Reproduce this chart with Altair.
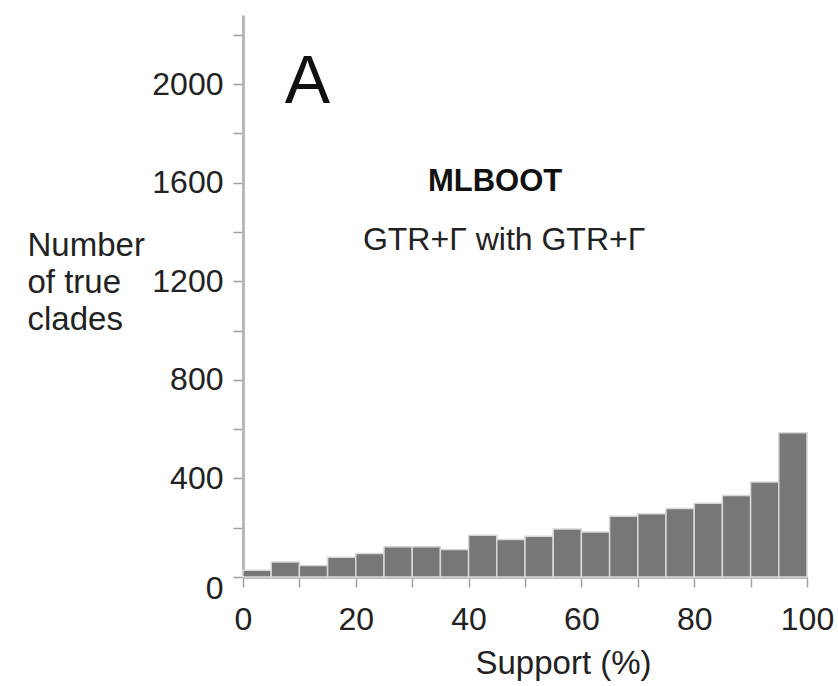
import altair as alt
import pandas as pd

bin_start = [0, 5, 10, 15, 20, 25, 30, 35, 40, 45, 50, 55, 60, 65, 70, 75, 80, 85, 90, 95]
counts = [27, 61, 47, 80, 95, 123, 123, 112, 169, 152, 165, 195, 183, 246, 257, 278, 299, 331, 385, 585]
bin_width = 5

y_ticks = list(range(0, 2201, 200))
x_ticks = list(range(0, 101, 10))

ann_text = ["A", "MLBOOT", "GTR+Γ with GTR+Γ"]
ann_x = [7.4, 44.7, 46.3]
ann_y = [1925, 1566, 1327]

FONT = "Liberation Sans"

df = pd.DataFrame({
    "start": bin_start,
    "end": [s + bin_width for s in bin_start],
    "count": counts,
})

xscale = alt.Scale(domain=[0, 100], nice=False, zero=False)
yscale = alt.Scale(domain=[0, 2280], nice=False)

bars = alt.Chart(df).mark_bar(
    color="#777777", stroke="#d8d8d8", strokeWidth=1.5
).encode(
    x=alt.X("start:Q", scale=xscale,
            axis=alt.Axis(values=x_ticks,
                          labelExpr="datum.value % 20 == 0 ? datum.label : ''",
                          format="d",
                          labelFlush=False,
                          title="Support (%)",
                          titleAnchor="start",
                          titleAlign="left",
                          titleX=232, titleY=96,
                          titleBaseline="alphabetic",
                          labelPadding=17)),
    x2="end:Q",
    y=alt.Y("count:Q", scale=yscale,
            axis=alt.Axis(values=y_ticks,
                          labelExpr="datum.value % 400 == 0 ? datum.label : ''",
                          format="d",
                          labelFlush=False,
                          labelOffset={"condition": {"test": "datum.value === 0", "value": 11}, "value": 0},
                          title=["Number", "of true", "clades"],
                          titleAngle=0, titleAlign="left",
                          titleBaseline="alphabetic",
                          titleX=-216, titleY=240,
                          titleLineHeight=37,
                          labelPadding=10,
                          labelOverlap=False)),
    y2=alt.datum(0),
)

ann_df = pd.DataFrame({"t": ann_text, "x": ann_x, "y": ann_y})

a_lbl = alt.Chart(ann_df.iloc[[0]]).mark_text(
    font=FONT, fontSize=68, align="left", baseline="alphabetic", color="#111111"
).encode(x=alt.X("x:Q", scale=xscale), y=alt.Y("y:Q", scale=yscale), text="t:N")

ml_lbl = alt.Chart(ann_df.iloc[[1]]).mark_text(
    font=FONT, fontSize=31, fontWeight="bold", align="center", baseline="alphabetic", color="#111111"
).encode(x=alt.X("x:Q", scale=xscale), y=alt.Y("y:Q", scale=yscale), text="t:N")

gtr_lbl = alt.Chart(ann_df.iloc[[2]]).mark_text(
    font=FONT, fontSize=32, align="center", baseline="alphabetic", color="#222222"
).encode(x=alt.X("x:Q", scale=xscale), y=alt.Y("y:Q", scale=yscale), text="t:N")

chart = alt.layer(bars, a_lbl, ml_lbl, gtr_lbl).properties(
    width=564, height=562,
    autosize=alt.AutoSizeParams(type="none"),
    padding={"left": 243, "top": 15, "right": 31, "bottom": 109},
    background="white",
).configure_view(stroke=None).configure_axis(
    grid=False,
    domainColor="#b8b8b8", domainWidth=3,
    tickColor="#a0a0a0", tickWidth=1.5, tickSize=10,
    labelFont=FONT, labelFontSize=32, labelColor="#222222",
    titleFont=FONT, titleFontSize=33, titleColor="#222222", titleFontWeight="normal",
)

chart.save("out.html", embed_options={"renderer": "svg", "actions": False})
